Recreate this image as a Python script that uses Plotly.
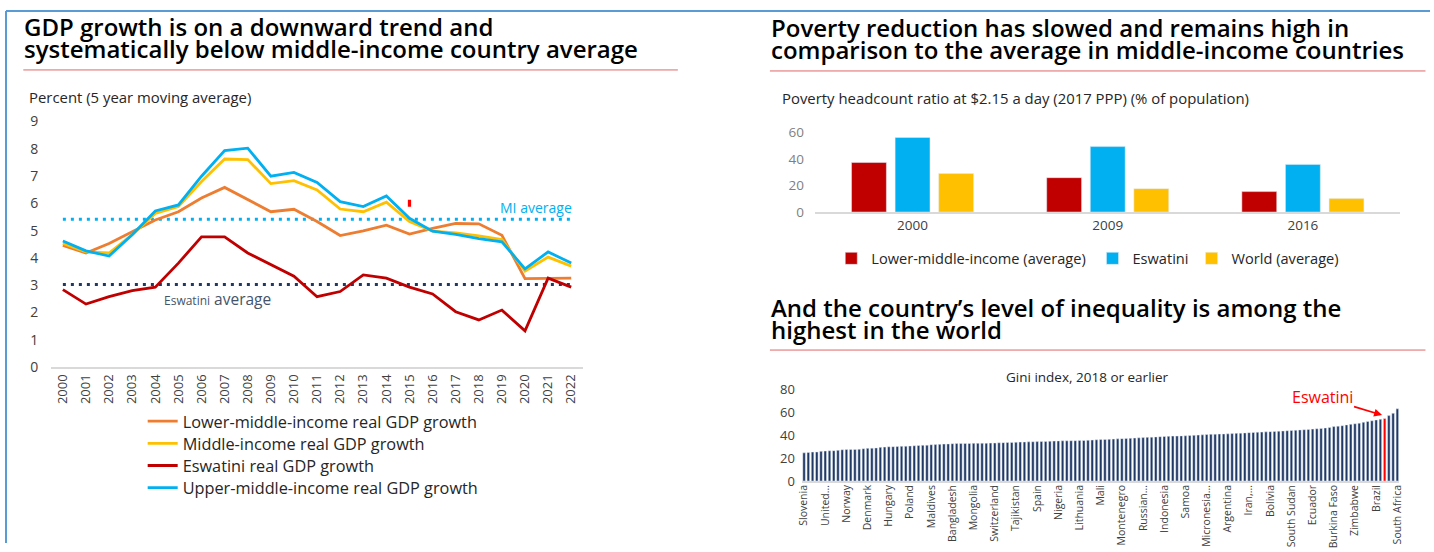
import plotly.graph_objects as go

W, H = 1434, 552

# ---------------- data ----------------
years = [str(y) for y in range(2000, 2023)]
lmic_growth = [4.46, 4.18, 4.53, 4.96, 5.39, 5.69, 6.19, 6.58, 6.15, 5.69, 5.78, 5.33,
               4.82, 4.99, 5.20, 4.87, 5.08, 5.26, 5.25, 4.83, 3.24, 3.26, 3.26]
mic_growth = [4.53, 4.22, 4.18, 4.85, 5.63, 5.88, 6.80, 7.62, 7.60, 6.72, 6.83, 6.49,
              5.79, 5.69, 6.04, 5.33, 4.98, 4.92, 4.81, 4.67, 3.52, 4.03, 3.70]
esw_growth = [2.84, 2.31, 2.58, 2.80, 2.93, 3.81, 4.77, 4.77, 4.18, 3.75, 3.33, 2.58,
              2.77, 3.38, 3.26, 2.93, 2.68, 2.03, 1.73, 2.09, 1.33, 3.26, 2.93]
umic_growth = [4.62, 4.26, 4.07, 4.85, 5.72, 5.94, 6.99, 7.93, 8.02, 6.99, 7.13, 6.76,
               6.06, 5.88, 6.27, 5.45, 4.98, 4.86, 4.71, 4.59, 3.60, 4.22, 3.81]
mi_average = 5.42
esw_average = 3.03

pov_years = ["2000", "2009", "2016"]
pov_lmic = [37.3, 25.9, 15.4]
pov_esw = [56.2, 49.3, 35.9]
pov_world = [29.0, 17.6, 10.1]

gini_values = [
    24.6, 25.0, 25.3, 25.4, 25.9, 26.2, 26.4, 26.5, 26.8, 27.3,
    27.5, 27.6, 27.6, 27.7, 28.2, 28.5, 28.7, 28.9, 29.4, 29.6,
    29.9, 30.0, 30.1, 30.3, 30.4, 30.6, 30.8, 31.0, 31.2, 31.3,
    31.7, 31.8, 32.0, 32.3, 32.4, 32.6, 32.7, 32.7, 32.8, 32.8,
    32.9, 32.9, 33.0, 33.0, 33.1, 33.2, 33.4, 33.5, 33.6, 33.7,
    33.8, 34.0, 34.1, 34.2, 34.3, 34.4, 34.5, 34.6, 34.8, 34.9,
    35.0, 35.1, 35.1, 35.2, 35.2, 35.3, 35.4, 35.6, 35.8, 36.0,
    36.2, 36.3, 36.4, 36.6, 36.8, 37.0, 37.2, 37.3, 37.5, 37.7,
    37.9, 38.1, 38.3, 38.5, 38.7, 38.9, 39.0, 39.2, 39.3, 39.4,
    39.5, 39.7, 39.9, 40.1, 40.3, 40.6, 40.8, 40.9, 41.0, 41.1,
    41.2, 41.4, 41.6, 41.8, 42.0, 42.2, 42.4, 42.6, 42.7, 42.9,
    43.1, 43.3, 43.5, 43.7, 43.9, 44.1, 44.3, 44.6, 44.8, 45.0,
    45.3, 45.6, 45.9, 46.3, 46.8, 47.5, 47.9, 48.3, 49.0, 49.5,
    50.0, 50.5, 51.3, 52.0, 52.6, 53.3, 53.9, 54.6, 57.1, 59.1,
    63.0]
gini_tick_labels = ["Slovenia", "United...", "Norway", "Denmark", "Hungary", "Poland",
                    "Maldives", "Bangladesh", "Mongolia", "Switzerland", "Tajikistan",
                    "Spain", "Nigeria", "Lithuania", "Mali", "Montenegro", "Russian...",
                    "Indonesia", "Samoa", "Micronesia...", "Argentina", "Iran,...",
                    "Bolivia", "South Sudan", "Ecuador", "Burkina Faso", "Zimbabwe",
                    "Brazil", "South Africa"]
gini_label_step = 5
eswatini_index = 137

# ---------------- helpers (reference pixel -> paper) ----------------
SX, SY, PAD = 1434 / 1458, 552 / 576, 12

def px(p):
    p = (p + 6.2) / 1.0095
    v = p / SX - PAD
    return min(max(v / W, 0), 1)

def py(p):
    v = p / SY - PAD
    return min(max(1 - v / H, 0), 1)

FONT = "Open Sans"
C_ORANGE = "#ED7D31"
C_YELLOW = "#FFC000"
C_RED = "#C00000"
C_CYAN = "#00B0F0"
C_NAVY = "#1F3864"

fig = go.Figure()

# ---------------- left: GDP growth lines ----------------
fig.add_trace(go.Scatter(x=years, y=[mi_average] * len(years), mode="lines",
                         line=dict(color=C_CYAN, width=3, dash="3px,5px"),
                         showlegend=False, hoverinfo="skip", xaxis="x", yaxis="y"))
fig.add_trace(go.Scatter(x=years, y=[esw_average] * len(years), mode="lines",
                         line=dict(color=C_NAVY, width=3, dash="3px,5px"),
                         showlegend=False, hoverinfo="skip", xaxis="x", yaxis="y"))
series = [("Lower-middle-income real GDP growth", lmic_growth, C_ORANGE, "legend"),
          ("Middle-income real GDP growth", mic_growth, C_YELLOW, "legend2"),
          ("Eswatini real GDP growth", esw_growth, C_RED, "legend3"),
          ("Upper-middle-income real GDP growth", umic_growth, C_CYAN, "legend4")]
for name, vals, col, lg in series:
    fig.add_trace(go.Scatter(x=years, y=vals, mode="lines", name=name,
                             line=dict(color=col, width=2.8), legend=lg,
                             xaxis="x", yaxis="y"))

# ---------------- right top: poverty bars ----------------
for name, vals, col, lg in [("Lower-middle-income (average)", pov_lmic, C_RED, "legend5"),
                            ("Eswatini", pov_esw, C_CYAN, "legend6"),
                            ("World (average)", pov_world, C_YELLOW, "legend7")]:
    fig.add_trace(go.Bar(x=pov_years, y=vals, name=name, marker_color=col,
                         legend=lg, xaxis="x2", yaxis="y2"))

# ---------------- right bottom: Gini bars ----------------
gini_x = list(range(len(gini_values)))
gini_colors = ["#FF0000" if i == eswatini_index else "#203864" for i in gini_x]
fig.add_trace(go.Bar(x=gini_x, y=gini_values, marker_color=gini_colors,
                     showlegend=False, xaxis="x3", yaxis="y3", width=0.6))


def leg(x_text, y_center, size):
    return dict(x=px(x_text) - 40 / W, xanchor="left", y=py(y_center), yanchor="middle",
                orientation="v", font=dict(family=FONT, size=size, color="#262626"),
                bgcolor="rgba(0,0,0,0)", itemwidth=30)


fig.update_layout(
    width=W, height=H,
    margin=dict(l=0, r=0, t=0, b=0),
    paper_bgcolor="white", plot_bgcolor="white",
    font=dict(family=FONT, color="#262626"),
    barmode="group", bargap=0.33, bargroupgap=0.2,
    xaxis=dict(domain=[px(52), px(583)], anchor="y", type="category",
               range=[-0.5, len(years) - 0.5],
               tickangle=-90, tickfont=dict(family=FONT, size=13, color="#404040"),
               showline=True, linecolor="#D9D9D9", linewidth=2,
               showgrid=False, ticks="", fixedrange=True),
    yaxis=dict(domain=[py(366), py(122)], anchor="x", range=[0, 9], dtick=1,
               tickfont=dict(family=FONT, size=14, color="#404040"),
               showgrid=False, zeroline=False, ticklabelstandoff=12, fixedrange=True),
    xaxis2=dict(domain=[px(815), px(1400)], anchor="y2", type="category",
                tickfont=dict(family=FONT, size=13.5, color="#404040"),
                showline=True, linecolor="#D9D9D9", linewidth=1.5,
                showgrid=False, ticks="", fixedrange=True),
    yaxis2=dict(domain=[py(212), py(133)], anchor="x2", range=[0, 60],
                tickvals=[0, 20, 40, 60],
                tickfont=dict(family=FONT, size=13.5, color="#7F7F7F"),
                showgrid=False, zeroline=False, ticklabelstandoff=10, fixedrange=True),
    xaxis3=dict(domain=[px(802), px(1399)], anchor="y3",
                range=[-0.5, len(gini_values) - 0.5],
                tickvals=gini_x[::gini_label_step], ticktext=gini_tick_labels,
                tickangle=-90, tickfont=dict(family=FONT, size=10.5, color="#404040"),
                ticklabelstandoff=-2,
                showline=True, linecolor="#D9D9D9", linewidth=1.5,
                showgrid=False, ticks="", fixedrange=True),
    yaxis3=dict(domain=[py(479), py(388)], anchor="x3", range=[0, 80], dtick=20,
                tickfont=dict(family=FONT, size=13, color="#404040"),
                showgrid=False, zeroline=False, ticklabelstandoff=6, fixedrange=True),
    legend=leg(183, 420, 16.3),
    legend2=leg(183, 442, 16.3),
    legend3=leg(183, 464, 16.3),
    legend4=leg(183, 486, 16.3),
    legend5=leg(871, 258, 14.6),
    legend6=leg(1132, 258, 14.6),
    legend7=leg(1231, 258, 14.6),
)

# ---------------- titles & texts ----------------
ann = []
def text(x, y, s, size, color="#000000", weight=None, xanchor="left", yanchor="middle"):
    f = dict(family=FONT, size=size, color=color)
    if weight:
        f["weight"] = weight
    ann.append(dict(x=px(x), y=py(y), xref="paper", yref="paper", text=s,
                    showarrow=False, xanchor=xanchor, yanchor=yanchor, font=f))

TS = 24
text(23, 28, "GDP growth is on a downward trend and", TS, weight=600)
text(23, 49.5, "systematically below middle-income country average", TS, weight=600)
text(769, 29, "Poverty reduction has slowed and remains high in", TS, weight=600)
text(769, 51, "comparison to the average in middle-income countries", TS, weight=600)
text(769, 307, "And the country’s level of inequality is among the", TS, weight=600)
text(769, 329, "highest in the world", TS, weight=600)

text(28, 98, "Percent (5 year moving average)", 14.9, color="#262626")
text(780, 99, "Poverty headcount ratio at $2.15 a day (2017 PPP) (% of population)", 14.9,
     color="#262626")
text(1087, 376, "Gini index, 2018 or earlier", 13.5, color="#262626", xanchor="center")
text(574, 208, "MI average", 14, color=C_CYAN, xanchor="right")
text(163, 298, "<span style='font-size:12px'>Eswatini</span> average", 15.5,
     color="#44546A")

ann.append(dict(x=eswatini_index - 0.6, y=gini_values[eswatini_index] + 3,
                xref="x3", yref="y3", ax=-60, ay=-18, text="Eswatini",
                showarrow=True, arrowhead=2, arrowsize=1, arrowwidth=1.6,
                arrowcolor="#FF0000", font=dict(family=FONT, size=16, color="#FF0000")))
fig.update_layout(annotations=ann)

# ---------------- frame & dividers ----------------
shapes = [
    dict(type="line", xref="paper", yref="paper", x0=0.0007, x1=1, y0=0.998, y1=0.998,
         line=dict(color="#5B9BD5", width=2)),
    dict(type="line", xref="paper", yref="paper", x0=0.0007, x1=0.0007, y0=0.998, y1=0,
         line=dict(color="#5B9BD5", width=2)),
    dict(type="line", xref="paper", yref="paper", x0=px(24), x1=px(678), y0=py(71), y1=py(71),
         line=dict(color="#E06666", width=1)),
    dict(type="line", xref="paper", yref="paper", x0=px(770), x1=px(1425), y0=py(72), y1=py(72),
         line=dict(color="#E06666", width=1)),
    dict(type="line", xref="paper", yref="paper", x0=px(770), x1=px(1425), y0=py(349), y1=py(349),
         line=dict(color="#E06666", width=1)),
    dict(type="rect", xref="x", yref="y", x0=14.93, x1=15.07, y0=5.87, y1=6.13,
         fillcolor="#FF0000", line=dict(width=0)),
]
fig.update_layout(shapes=shapes)

fig.write_html(
    "out.html", config={"displayModeBar": False},
    post_script=("document.documentElement.style.margin='0';"
                 "document.body.style.margin='0';document.body.style.overflow='hidden';"
                 "var d=document.getElementById('{plot_id}');"
                 "d.style.position='fixed';d.style.left='0px';d.style.top='0px';"
                 "d.style.overflow='hidden';"
                 "document.querySelectorAll('svg.main-svg').forEach(function(s){s.style.overflow='hidden';});"))
